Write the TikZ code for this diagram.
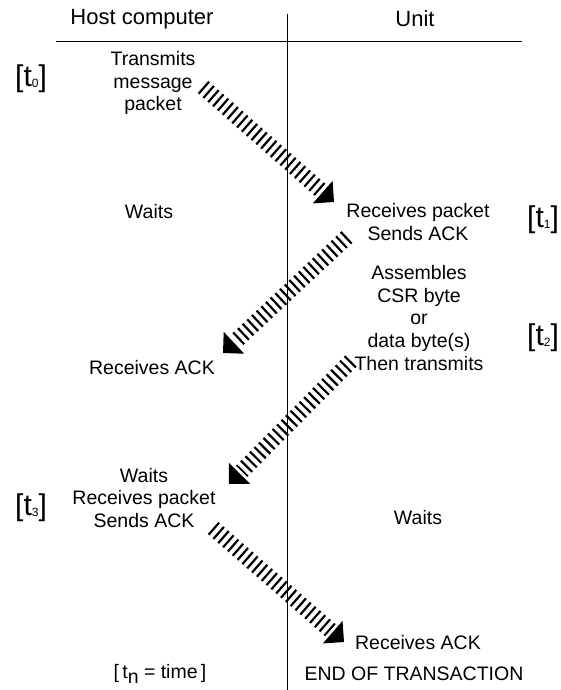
\documentclass[tikz,border=0pt]{standalone}
\usepackage{fontspec}
\setmainfont{Liberation Sans}
\usetikzlibrary{calc}
\newcommand\hatcharrow[3]{%
  \coordinate (#3b) at ($(#2)!15pt!(#1)$);
  \coordinate (#3e) at ($(#2)!18pt!(#1)$);
  \coordinate (#3l) at ($(#3b)!15pt!90:(#2)$);
  \coordinate (#3r) at ($(#3b)!15pt!-90:(#2)$);
  \draw[band] (#1) -- (#3e);
  \fill (#2) -- (#3l) -- (#3r) -- cycle;
}
\begin{document}
\begin{tikzpicture}[x=1pt,y=-1pt,
  txt/.style={font=\fontsize{19.5}{22.7}\selectfont, align=center, inner sep=0pt},
  hdr/.style={font=\fontsize{22}{26}\selectfont, inner sep=0pt},
  tlab/.style={font=\fontsize{30}{30}\selectfont, inner sep=0pt},
  band/.style={line width=16pt, dash pattern=on 2.2pt off 4.2pt},
  rule/.style={line width=0.9pt}]
\useasboundingbox (0,0) rectangle (561,690);
% headers
\node[hdr] (hhost) at (142,19) {Host computer};
\node[hdr] (hunit) at (415,19) {Unit};
\coordinate (hl) at (56,41);
\coordinate (hr) at (522,41);
\coordinate (vtop) at (287,14);
\coordinate (vbot) at (287,690);
\draw[rule] (hl) -- (hr);
\draw[rule] (vtop) -- (vbot);
% time labels
\newcommand\tsub[1]{[t\raisebox{-1pt}{\fontsize{12}{12}\selectfont #1}]}
\node[tlab] (t0) at (31,79) {\tsub{0}};
\node[tlab] (t1) at (543,220) {\tsub{1}};
\node[tlab] (t2) at (543,338) {\tsub{2}};
\node[tlab] (t3) at (31,508) {\tsub{3}};
% texts
\node[txt] (trans) at (153,83) {Transmits\\message\\packet};
\node[txt] (wait1) at (149,212) {Waits};
\node[txt] (recv1) at (418,222) {Receives packet\\Sends ACK};
\node[txt] (assem) at (419,318) {Assembles\\CSR byte\\or\\data byte(s)\\Then transmits};
\node[txt] (ack1) at (152,368) {Receives ACK};
\node[txt] (recv2) at (144,498) {Waits\\Receives packet\\Sends ACK};
\node[txt] (wait2) at (418,518) {Waits};
\node[txt] (ack2) at (418,643) {Receives ACK};
\node[txt] (endt) at (414,674) {END OF TRANSACTION};
\node[txt] (tn) at (160,674) {[\,t\raisebox{-5pt}{n} = time\,]};
% arrows
\coordinate (a1s) at (203,87);
\coordinate (a1t) at (334,202);
\coordinate (a2s) at (347,237);
\coordinate (a2t) at (223,353);
\coordinate (a3s) at (351,361);
\coordinate (a3t) at (229,484);
\coordinate (a4s) at (213,528);
\coordinate (a4t) at (344,642);
\hatcharrow{a1s}{a1t}{ha}
\hatcharrow{a2s}{a2t}{hb}
\hatcharrow{a3s}{a3t}{hc}
\hatcharrow{a4s}{a4t}{hd}
\end{tikzpicture}
\end{document}
